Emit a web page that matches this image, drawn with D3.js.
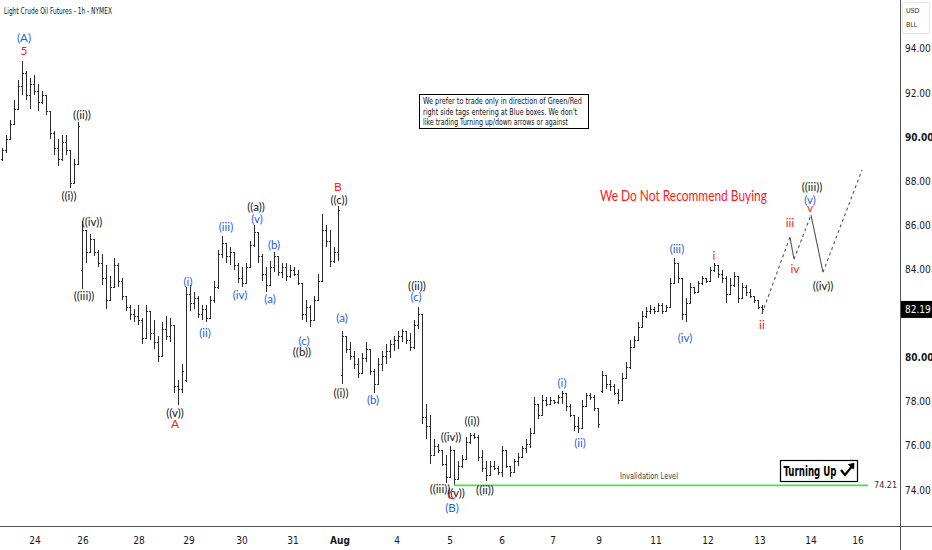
<!DOCTYPE html>
<html><head><meta charset="utf-8">
<script src="https://cdn.jsdelivr.net/npm/d3@7"></script>
<style>
html,body{margin:0;padding:0;background:#fff;}
svg{display:block;}
.narrow{font-family:"Liberation Sans Narrow","DejaVu Sans Condensed","Roboto Condensed",sans-serif;}
.lbl{font-family:Lato,"Open Sans",sans-serif;}
</style>
</head><body>
<svg id="c" width="932" height="550"></svg>
<script>
// OHLC bars [open, high, low, close], hourly sequence Jul 23 - Aug 13
const ohlc = [
[89.0,89.5,88.9,89.4],[89.4,90.1,89.3,89.9],[89.9,90.8,89.9,90.6],[90.6,91.7,90.6,91.3],[91.3,92.6,91.3,92.3],
[92.3,93.45,91.9,92.9],[92.9,93.0,91.7,91.9],[91.9,92.7,91.3,92.4],[92.4,92.8,91.9,92.1],[92.1,92.4,91.2,91.6],
[91.6,92.1,91.5,91.9],[91.9,91.9,91.0,91.2],[91.2,91.2,89.9,90.2],[90.2,90.3,89.2,89.5],[89.5,89.9,88.7,89.0],
[89.0,90.1,88.9,89.8],[89.8,90.1,89.2,89.4],[89.4,89.4,87.7,87.9],[87.9,89.0,87.9,88.8],[88.8,90.7,88.8,90.5],
[84.0,86.2,83.1,85.8],[85.8,85.8,84.3,84.8],[84.8,85.6,84.8,85.4],[85.4,85.4,84.6,84.8],[84.8,84.9,84.1,84.3],
[84.3,84.7,83.3,83.6],[83.6,84.2,82.2,82.6],[82.6,83.7,82.6,83.2],[83.2,84.5,83.2,84.2],[84.2,84.3,83.2,83.5],
[83.5,83.6,82.6,82.8],[82.8,82.8,82.1,82.3],[82.3,82.4,81.7,82.0],[82.0,82.2,81.6,81.9],[81.9,82.4,81.5,81.7],
[81.7,81.8,80.6,80.9],[80.9,82.4,80.9,82.1],[82.1,82.1,80.8,81.1],[81.1,81.7,80.4,80.7],[80.7,81.0,79.8,80.1],
[80.1,81.6,80.1,81.3],[81.3,81.9,80.8,81.0],[81.0,81.8,80.7,81.5],[81.5,81.5,78.4,78.7],[78.7,79.0,77.85,78.6],
[78.6,79.7,78.4,79.4],[79.0,83.2,78.9,82.9],[82.9,83.3,82.1,82.5],[82.5,83.0,82.2,82.7],[82.7,82.8,81.8,82.0],
[82.0,82.4,81.7,82.2],[82.2,82.4,81.6,81.8],[81.8,82.8,81.8,82.6],[82.6,83.5,82.5,83.2],[83.2,84.9,83.1,84.7],
[84.7,85.5,84.5,85.2],[85.2,85.2,84.3,84.6],[84.6,85.0,84.2,84.8],[84.8,84.8,84.0,84.2],[84.2,84.3,83.4,83.6],
[83.6,84.1,83.2,83.4],[83.4,84.3,83.4,84.1],[84.1,85.3,84.1,85.1],[85.1,86.0,85.0,85.7],[85.7,85.7,84.3,84.6],
[84.6,84.7,83.5,83.8],[83.8,84.1,83.0,83.3],[83.3,84.4,83.3,84.1],[84.1,84.8,83.9,84.6],[84.6,84.6,83.7,83.9],
[83.9,84.3,83.6,84.1],[84.1,84.3,83.5,83.7],[83.7,84.2,83.6,84.0],[84.0,84.1,83.7,83.8],[83.8,84.0,83.3,83.4],
[83.4,83.4,81.7,82.0],[82.0,82.6,81.6,82.3],[82.3,82.4,81.4,81.7],[81.7,82.8,81.7,82.6],[82.6,83.8,82.6,83.5],
[83.5,86.5,83.5,85.8],[85.8,86.0,85.0,85.3],[85.3,85.8,84.1,84.4],[84.4,85.0,84.3,84.8],[84.8,86.9,84.4,86.7],
[79.2,81.2,78.8,81.0],[81.0,81.0,80.2,80.4],[80.4,80.7,79.9,80.1],[80.1,80.3,79.5,79.7],[79.7,80.0,79.1,79.3],
[79.3,80.2,79.3,80.0],[80.0,80.7,79.8,80.4],[80.4,80.4,79.2,79.4],[79.4,79.5,78.4,78.8],[78.8,80.0,78.8,79.7],
[79.7,80.3,79.4,80.1],[80.1,80.6,79.7,80.3],[80.3,80.8,80.0,80.6],[80.6,81.0,80.3,80.8],[80.8,81.2,80.4,81.0],
[81.0,81.3,80.7,81.2],[81.2,81.2,80.6,80.8],[80.8,81.1,80.3,80.5],[80.5,81.7,80.4,81.5],[81.5,82.3,81.3,82.0],
[82.0,82.0,77.0,77.3],[77.3,77.9,76.3,76.9],[76.9,77.4,75.2,75.6],[75.6,76.3,75.6,76.0],[76.0,76.1,75.7,75.8],
[75.8,75.8,75.1,75.2],[75.2,75.6,74.32,74.6],[74.6,76.0,74.6,75.8],[75.8,75.8,74.21,74.5],[74.5,75.3,74.5,75.1],
[75.1,75.6,75.0,75.4],[75.4,76.4,75.4,76.2],[76.2,76.6,76.1,76.5],[76.5,76.6,76.3,76.4],[76.4,76.5,75.3,75.5],
[75.5,75.8,74.8,75.0],[75.0,75.3,74.4,74.7],[74.7,75.3,74.7,75.1],[75.1,75.3,74.9,75.0],[75.0,75.1,74.7,74.8],
[74.8,76.0,74.6,75.8],[75.8,75.8,75.0,75.1],[75.1,75.1,74.6,74.8],[74.8,75.4,74.8,75.3],[75.3,75.7,75.1,75.5],
[75.5,76.0,75.5,75.9],[75.9,76.3,75.7,76.1],[76.1,76.8,75.9,76.6],[76.6,78.2,76.6,77.9],[77.9,77.9,77.2,77.4],
[77.4,78.3,77.4,78.1],[78.1,78.2,77.8,77.9],[77.9,78.2,77.9,78.1],[78.1,78.1,77.9,78.0],[78.0,78.3,77.9,78.2],
[78.2,78.5,77.9,78.4],[78.4,78.4,77.6,77.8],[77.8,77.9,77.3,77.4],[77.4,77.4,76.7,76.9],[76.9,77.3,76.6,76.8],
[76.8,78.1,76.8,77.8],[77.8,78.4,77.8,78.3],[78.3,78.4,78.1,78.2],[78.2,78.3,77.6,77.7],[77.7,77.7,76.8,77.0],
[78.5,79.4,78.4,79.2],[79.2,79.2,78.6,78.8],[78.8,79.0,78.5,78.7],[78.7,78.8,78.3,78.4],[78.4,78.6,77.9,78.1],
[78.1,79.3,78.1,79.1],[79.1,79.8,79.1,79.6],[79.6,80.8,79.5,80.5],[80.5,81.0,80.5,80.8],[80.8,81.6,80.8,81.4],
[81.4,82.1,81.4,81.9],[81.9,82.3,81.8,82.1],[82.1,82.4,82.0,82.2],[82.2,82.3,82.0,82.1],[82.1,82.5,82.1,82.4],
[82.4,82.5,82.0,82.1],[82.1,82.4,82.1,82.3],[82.3,83.6,82.3,83.4],[83.4,84.5,83.4,84.3],[84.3,84.3,83.4,83.6],
[83.6,83.6,81.7,82.0],[82.0,82.7,81.6,82.5],[82.5,83.4,82.5,83.2],[83.2,83.2,82.9,83.0],[83.0,83.5,83.0,83.4],
[83.4,83.7,83.3,83.6],[83.6,83.6,83.4,83.5],[83.5,84.1,83.5,84.0],[84.0,84.3,83.9,84.2],[84.2,84.2,83.6,83.8],
[83.8,84.0,83.4,83.6],[83.6,83.7,82.5,82.9],[82.9,83.6,82.9,83.3],[83.3,83.9,83.2,83.7],[83.7,83.7,82.5,82.7],
[82.7,83.4,82.7,83.2],[83.2,83.3,82.8,83.0],[83.0,83.1,82.7,82.8],[82.8,82.8,82.5,82.6],[82.6,82.6,82.2,82.3],
[82.3,82.4,82.0,82.19]
];
// date ticks: label and bar-slot position
const dateLabels = ["24","26","28","29","30","31","Aug","4","5","6","7","9","11","12","13","14","16"];
const dateSlots  = [8.25,20.25,34.25,46.75,60,72.75,84.5,98.75,112,125,137.75,149.25,163.5,176.5,189.5,202.25,214];
const priceTicks = [74,76,78,80,82,84,86,88,90,92,94];
const lastPrice = 82.19;
const invalidation = 74.21;
// projected path [slot, price] and dash flags per segment
const projSlots  = [190, 197, 198, 202.25, 205.25, 215];
const projPrices = [82.0, 85.47, 84.47, 86.47, 83.88, 88.51];
const projDashed = [true, false, true, false, true];
// wave labels: text, slot, price, colour key
const waveText  = ["(A)","5","((i))","((ii))","((iii))","((iv))","((v))","A","(i)","(ii)","(iii)","(iv)","(v)","((a))","(a)","(b)","(c)","((b))","B","((c))","(a)","((i))","(b)","((ii))","(c)","((iii))","((iv))","((v))","C","(B)","((i))","((ii))","(i)","(ii)","(iii)","(iv)","i","ii","iii","iv","v","(v)","((iii))","((iv))"];
const waveSlot  = [5.5,5.5,16.75,20,20.5,22.5,43.25,43.25,46.5,50.75,56,59.5,63.75,63.5,67,68,75.5,75,84,84.25,85,84.75,92.75,103.75,103.5,109.5,112.25,113.5,112.5,112.5,117.5,120.75,140,144.5,168.75,170.75,178,190,197,198.25,202,202,202.5,205.25];
const wavePrice = [94.5,93.91,87.33,91.0,82.8,86.15,77.49,76.99,83.43,81.12,85.93,82.84,86.29,86.83,82.66,85.11,80.75,80.26,87.74,87.15,81.8,78.4,78.08,83.25,82.75,74.04,76.4,73.86,73.77,73.18,77.13,74.0,78.85,76.13,84.93,80.89,84.61,81.48,86.11,84.02,86.79,87.15,87.74,83.25];
const waveColor = ["b","r","k","k","k","k","k","r","b","b","b","b","b","k","b","b","b","k","r","k","b","k","b","k","b","k","k","k","r","b","k","k","b","b","b","b","r","r","r","r","r","b","k","k"];

const W = 932, H = 550, PW = 900, PH = 526;
const colors = {b:"#2b5ce6", r:"#ff1a1a", k:"#131722"};
const svg = d3.select("#c");
const x = d3.scaleLinear().domain([-0.5, 224.5]).range([0, PW]);
const y = d3.scaleLinear().domain([72.37, 96.22]).range([PH, 0]);

svg.append("rect").attr("width",W).attr("height",H).attr("fill","#fff");

const plot = svg.append("g");
// bars
const bars = plot.append("g").attr("stroke","#2a2a2a").attr("stroke-width",1).attr("shape-rendering","crispEdges");
ohlc.forEach((d,i)=>{
  const cx = Math.round(x(i)) + 0.5;
  bars.append("line").attr("x1",cx).attr("x2",cx).attr("y1",y(d[1])).attr("y2",y(d[2]));
  bars.append("line").attr("x1",cx-1.5).attr("x2",cx).attr("y1",Math.round(y(d[0]))+0.5).attr("y2",Math.round(y(d[0]))+0.5);
  bars.append("line").attr("x1",cx).attr("x2",cx+1.5).attr("y1",Math.round(y(d[3]))+0.5).attr("y2",Math.round(y(d[3]))+0.5);
});

// invalidation level
const invStart = ohlc.findIndex(d=>d[2]===invalidation);
plot.append("line").attr("x1",x(invStart)).attr("x2",x(216.5))
  .attr("y1",y(invalidation)).attr("y2",y(invalidation))
  .attr("stroke","#4fdc4f").attr("stroke-width",1.6);
plot.append("text").attr("x",x(216.5)+6).attr("y",y(invalidation)+3)
  .attr("class","narrow").attr("font-size",9).attr("fill","#333").text(invalidation.toFixed(2));
plot.append("text").attr("x",649).attr("y",y(invalidation)-6).attr("text-anchor","middle")
  .attr("class","narrow").attr("font-size",8.5).attr("fill","#444")
  .attr("textLength",58).attr("lengthAdjust","spacingAndGlyphs").text("Invalidation Level");

// projection
for (let k=0;k<projDashed.length;k++){
  plot.append("line")
    .attr("x1",x(projSlots[k])).attr("y1",y(projPrices[k]))
    .attr("x2",x(projSlots[k+1])).attr("y2",y(projPrices[k+1]))
    .attr("stroke","#555").attr("stroke-width",1.1)
    .attr("stroke-dasharray",projDashed[k]?"3,3":null);
}

// wave labels
plot.append("g").selectAll("text").data(waveText).join("text")
  .attr("class","lbl")
  .attr("x",(d,i)=>x(waveSlot[i])).attr("y",(d,i)=>y(wavePrice[i]))
  .attr("dy","0.35em").attr("text-anchor","middle")
  .attr("font-size",(d,i)=>waveColor[i]==="r"?12:11.5)
  .attr("fill",(d,i)=>colors[waveColor[i]])
  .text(d=>d);

// red warning
plot.append("text").attr("class","lbl").attr("x",600).attr("y",196).attr("dy","0.35em")
  .attr("font-size",14.5).attr("fill","#ff1a1a")
  .attr("textLength",167).attr("lengthAdjust","spacingAndGlyphs")
  .text("We Do Not Recommend Buying");

// note box
const note = ["We prefer to trade only in direction of Green/Red","right side tags entering at Blue boxes. We don't","like trading Turning up/down arrows or against"];
const noteLen = [159, 154, 145];
svg.append("rect").attr("x",419.5).attr("y",94.5).attr("width",169).attr("height",34)
  .attr("fill","#fff").attr("stroke","#000").attr("stroke-width",1);
svg.append("g").selectAll("text").data(note).join("text")
  .attr("class","narrow").attr("x",423).attr("y",(d,i)=>104+i*10.5)
  .attr("font-size",8.6).attr("fill","#111")
  .attr("textLength",(d,i)=>noteLen[i]).attr("lengthAdjust","spacingAndGlyphs").text(d=>d);

// Turning Up box
svg.append("rect").attr("x",780.5).attr("y",460.5).attr("width",77).attr("height",21)
  .attr("fill","#fff").attr("stroke","#000").attr("stroke-width",1.2);
svg.append("text").attr("class","narrow").attr("x",783.5).attr("y",476)
  .attr("font-size",13.5).attr("font-weight","bold").attr("fill","#000")
  .attr("textLength",53).attr("lengthAdjust","spacingAndGlyphs").text("Turning Up");
svg.append("path").attr("d","M841,470 L845,475 L853,465")
  .attr("fill","none").attr("stroke","#000").attr("stroke-width",2.2);
svg.append("path").attr("d","M848.5,464.5 L854,463.5 L853.5,469 Z").attr("fill","#000").attr("stroke","#000");

// title
svg.append("text").attr("class","narrow").attr("x",4).attr("y",14).attr("font-size",9)
  .attr("fill","#131722").attr("textLength",108).attr("lengthAdjust","spacingAndGlyphs")
  .text("Light Crude Oil Futures - 1h - NYMEX");

// axes frame
svg.append("line").attr("x1",PW+0.5).attr("x2",PW+0.5).attr("y1",0).attr("y2",H).attr("stroke","#555").attr("stroke-width",1);
svg.append("line").attr("x1",0).attr("x2",W).attr("y1",PH+0.5).attr("y2",PH+0.5).attr("stroke","#555").attr("stroke-width",1);

// price axis (tick hidden behind last-price tag)
svg.append("g").selectAll("text").data(priceTicks.filter(d=>Math.abs(d-lastPrice)>0.6)).join("text")
  .attr("class","narrow").attr("x",905).attr("y",d=>y(d)).attr("dy","0.35em")
  .attr("font-size",10).attr("fill","#131722")
  .attr("font-weight",d=>d%10===0?"bold":"normal")
  .text(d=>d.toFixed(2));
svg.append("rect").attr("x",PW+1).attr("y",y(lastPrice)-8.5).attr("width",31).attr("height",17).attr("fill","#000");
svg.append("text").attr("class","narrow").attr("x",905).attr("y",y(lastPrice)).attr("dy","0.35em")
  .attr("font-size",10).attr("fill","#fff").text(lastPrice.toFixed(2));
// currency box
svg.append("rect").attr("x",902.5).attr("y",2.5).attr("width",27).attr("height",31).attr("rx",2)
  .attr("fill","#fff").attr("stroke","#e6e6e6");
svg.append("text").attr("class","narrow").attr("x",906).attr("y",13).attr("font-size",7).attr("fill","#333").text("USD");
svg.append("text").attr("class","narrow").attr("x",906).attr("y",27).attr("font-size",7).attr("fill","#333").text("BLL");

// date axis
svg.append("g").selectAll("text").data(dateLabels).join("text")
  .attr("class","narrow").attr("x",(d,i)=>x(dateSlots[i])).attr("y",540).attr("dy","0.35em")
  .attr("text-anchor","middle").attr("font-size",10).attr("fill","#131722")
  .attr("font-weight",d=>d==="Aug"?"bold":"normal").text(d=>d);
</script>
</body></html>
